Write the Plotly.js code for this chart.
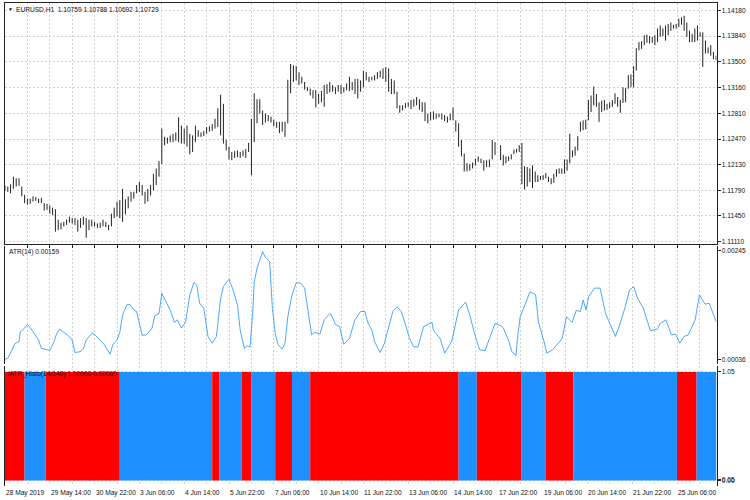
<!DOCTYPE html>
<html>
<head>
<meta charset="utf-8">
<script src="https://cdn.plot.ly/plotly-3.0.1.min.js"></script>
<style>
  html, body { margin: 0; padding: 0; background: #ffffff; }
  #chart { width: 750px; height: 500px; }
</style>
</head>
<body>
<div id="chart"></div>
<script>
// price bars (every second H1 bar or so)
const barHigh = [
  1.1185, 1.1184, 1.1187, 1.1197, 1.1195, 1.1195, 1.1184, 1.1173, 1.1168, 1.1168, 1.1171, 1.1170,
  1.1168, 1.1169, 1.1162, 1.1161, 1.1159, 1.1156, 1.1154, 1.1140, 1.1136, 1.1137, 1.1140, 1.1144,
  1.1142, 1.1142, 1.1140, 1.1142, 1.1144, 1.1142, 1.1140, 1.1140, 1.1137, 1.1135, 1.1136, 1.1140,
  1.1137, 1.1133, 1.1148, 1.1156, 1.1164, 1.1166, 1.1181, 1.1167, 1.1171, 1.1177, 1.1177, 1.1186,
  1.1190, 1.1186, 1.1177, 1.1181, 1.1186, 1.1201, 1.1208, 1.1218, 1.1261, 1.1250, 1.1249, 1.1252,
  1.1254, 1.1256, 1.1276, 1.1265, 1.1261, 1.1265, 1.1254, 1.1252, 1.1265, 1.1259, 1.1256, 1.1258,
  1.1263, 1.1264, 1.1267, 1.1274, 1.1288, 1.1306, 1.1294, 1.1246, 1.1237, 1.1230, 1.1231, 1.1232,
  1.1230, 1.1232, 1.1234, 1.1242,
  1.1274, 1.1308, 1.1300, 1.1300, 1.1285, 1.1281, 1.1279, 1.1277, 1.1273, 1.1270, 1.1270, 1.1270,
  1.1270, 1.1326, 1.1347, 1.1345, 1.1344, 1.1336, 1.1330, 1.1323, 1.1316, 1.1314, 1.1312, 1.1312,
  1.1307, 1.1311, 1.1319, 1.1320, 1.1323, 1.1319, 1.1316, 1.1319, 1.1319, 1.1316, 1.1321, 1.1330,
  1.1323, 1.1327, 1.1327, 1.1325, 1.1338, 1.1336, 1.1330, 1.1330, 1.1332, 1.1336, 1.1338, 1.1341,
  1.1343, 1.1341, 1.1327, 1.1325, 1.1310, 1.1292, 1.1292, 1.1295, 1.1296, 1.1299, 1.1300, 1.1303,
  1.1300, 1.1296, 1.1296, 1.1281, 1.1283, 1.1284, 1.1281, 1.1281, 1.1281, 1.1279, 1.1277, 1.1281,
  1.1289, 1.1272, 1.1268, 1.1246, 1.1228, 1.1215, 1.1214, 1.1216, 1.1221, 1.1224, 1.1221, 1.1219,
  1.1219, 1.1220, 1.1246, 1.1243, 1.1239, 1.1226,
  1.1224, 1.1224, 1.1227, 1.1233, 1.1234, 1.1239, 1.1242, 1.1211, 1.1210, 1.1208, 1.1212, 1.1204,
  1.1199, 1.1198, 1.1199, 1.1202, 1.1197, 1.1195, 1.1201, 1.1207, 1.1208, 1.1208, 1.1220, 1.1220,
  1.1254, 1.1232, 1.1237, 1.1251, 1.1270, 1.1272, 1.1273, 1.1299, 1.1305, 1.1317, 1.1307, 1.1296,
  1.1298, 1.1299, 1.1294, 1.1296, 1.1299, 1.1308, 1.1303, 1.1299, 1.1316, 1.1315, 1.1332, 1.1333,
  1.1344, 1.1368, 1.1376, 1.1377, 1.1385, 1.1386, 1.1384, 1.1383, 1.1385, 1.1394, 1.1398, 1.1394,
  1.1398, 1.1400, 1.1402, 1.1399, 1.1400, 1.1407, 1.1409, 1.1411, 1.1402, 1.1391, 1.1387, 1.1394,
  1.1398, 1.1389, 1.1389, 1.1378, 1.1369, 1.1372, 1.1363, 1.1358, 1.1358, 1.1365
];
const barLow = [
  1.1179, 1.1177, 1.1175, 1.1181, 1.1184, 1.1185, 1.1171, 1.1162, 1.1160, 1.1161, 1.1164, 1.1165,
  1.1162, 1.1162, 1.1152, 1.1153, 1.1148, 1.1146, 1.1124, 1.1126, 1.1127, 1.1131, 1.1133, 1.1136,
  1.1135, 1.1133, 1.1124, 1.1129, 1.1133, 1.1116, 1.1126, 1.1131, 1.1131, 1.1129, 1.1129, 1.1131,
  1.1130, 1.1126, 1.1131, 1.1142, 1.1144, 1.1142, 1.1137, 1.1147, 1.1155, 1.1164, 1.1168, 1.1175,
  1.1177, 1.1172, 1.1161, 1.1164, 1.1172, 1.1179, 1.1186, 1.1197, 1.1214, 1.1239, 1.1241, 1.1243,
  1.1243, 1.1245, 1.1243, 1.1241, 1.1241, 1.1237, 1.1227, 1.1230, 1.1243, 1.1250, 1.1250, 1.1251,
  1.1254, 1.1257, 1.1258, 1.1261, 1.1263, 1.1252, 1.1241, 1.1232, 1.1220, 1.1219, 1.1222, 1.1223,
  1.1222, 1.1224, 1.1222, 1.1230,
  1.1199, 1.1243, 1.1268, 1.1281, 1.1266, 1.1269, 1.1271, 1.1269, 1.1264, 1.1262, 1.1255, 1.1257,
  1.1250, 1.1268, 1.1308, 1.1323, 1.1325, 1.1319, 1.1321, 1.1313, 1.1311, 1.1305, 1.1301, 1.1289,
  1.1294, 1.1296, 1.1290, 1.1307, 1.1309, 1.1310, 1.1307, 1.1310, 1.1307, 1.1309, 1.1312, 1.1311,
  1.1312, 1.1307, 1.1301, 1.1310, 1.1316, 1.1325, 1.1323, 1.1325, 1.1325, 1.1327, 1.1329, 1.1327,
  1.1323, 1.1310, 1.1307, 1.1307, 1.1288, 1.1282, 1.1285, 1.1288, 1.1290, 1.1287, 1.1290, 1.1292,
  1.1286, 1.1283, 1.1271, 1.1268, 1.1272, 1.1273, 1.1274, 1.1276, 1.1273, 1.1271, 1.1269, 1.1272,
  1.1272, 1.1257, 1.1237, 1.1224, 1.1204, 1.1204, 1.1205, 1.1208, 1.1212, 1.1217, 1.1215, 1.1205,
  1.1210, 1.1210, 1.1220, 1.1226, 1.1219, 1.1212,
  1.1215, 1.1218, 1.1220, 1.1227, 1.1229, 1.1230, 1.1187, 1.1180, 1.1184, 1.1190, 1.1182, 1.1190,
  1.1190, 1.1193, 1.1193, 1.1195, 1.1190, 1.1187, 1.1189, 1.1197, 1.1201, 1.1201, 1.1201, 1.1205,
  1.1215, 1.1223, 1.1225, 1.1232, 1.1257, 1.1259, 1.1260, 1.1272, 1.1283, 1.1292, 1.1290, 1.1270,
  1.1283, 1.1285, 1.1286, 1.1288, 1.1290, 1.1294, 1.1290, 1.1282, 1.1295, 1.1296, 1.1314, 1.1316,
  1.1316, 1.1338, 1.1365, 1.1367, 1.1372, 1.1375, 1.1374, 1.1375, 1.1372, 1.1376, 1.1383, 1.1384,
  1.1378, 1.1385, 1.1391, 1.1394, 1.1394, 1.1396, 1.1399, 1.1391, 1.1383, 1.1376, 1.1376, 1.1376,
  1.1378, 1.1383, 1.1343, 1.1361, 1.1361, 1.1358, 1.1353, 1.1352, 1.1351, 1.1354
];

// ATR(14) line
const atrBar = [
  0, 2, 5, 7, 10, 11, 14, 16, 18, 21, 24, 26, 29, 32, 35, 37, 39, 42, 45, 48, 50, 54, 56, 58, 62, 64,
  67, 69, 71, 75, 77, 80, 82, 84, 87, 89, 92, 94, 96, 98, 101, 105, 107, 110, 112, 116, 118, 121, 123,
  126, 129, 132, 135, 137, 139, 142, 145, 148, 151, 154, 156, 160, 163, 166, 168, 171, 173, 175,
  177, 178, 180, 184, 186, 189, 191, 193, 195, 198, 200, 202, 205, 208, 211, 214, 217, 219, 221,
  225, 228, 232, 233, 236, 239, 242, 246, 250, 254, 257, 259, 262, 264, 268, 271, 274, 277, 280,
  283, 286, 289, 292, 295, 299, 302, 305, 306, 311, 314, 319, 324, 329, 332, 335, 339, 343, 346, 350, 354,
  356, 360, 362, 365, 366, 368, 371, 375, 379, 381, 385, 387, 391, 395, 398, 401, 405, 408, 411, 413,
  415, 417, 421, 425, 429, 432, 436, 439, 443, 446, 449, 452, 456, 461, 466, 468, 472, 476, 479, 482,
  485, 488, 493, 496, 500, 503, 506, 508
];
const atrValue = [
  0.00036, 0.00038, 0.00054, 0.00066, 0.0007, 0.00089, 0.00096, 0.00103, 0.00097, 0.00086, 0.00073, 0.00057, 0.00055, 0.00053,
  0.0007, 0.00086, 0.00094, 0.00088, 0.00082, 0.00073, 0.00049, 0.00051, 0.00057, 0.00073, 0.00086, 0.00084,
  0.00076, 0.0007, 0.00064, 0.00046, 0.00064, 0.00073, 0.00088, 0.00121, 0.00141, 0.00142, 0.00131, 0.00128, 0.00105, 0.00082,
  0.00083, 0.00096, 0.0012, 0.00124, 0.00163, 0.00141, 0.00131, 0.00107, 0.00112, 0.00096, 0.00108, 0.0016, 0.00184, 0.00179,
  0.00144, 0.00134, 0.0008, 0.00067, 0.0008, 0.00153, 0.00176, 0.0019, 0.00169, 0.00141, 0.00092, 0.00057, 0.00062, 0.0006,
  0.00128, 0.00185, 0.00211, 0.00243, 0.00232, 0.00224, 0.00134, 0.00086, 0.00064, 0.00056, 0.00067, 0.00118, 0.0016, 0.00183,
  0.00183, 0.00173, 0.00121, 0.00083, 0.00088, 0.00085, 0.00112, 0.00124, 0.00122, 0.00103, 0.00099, 0.00065, 0.00076, 0.00112,
  0.00128, 0.00128, 0.00108, 0.00092, 0.0007, 0.00049, 0.00067, 0.00099, 0.00128, 0.00137, 0.00128, 0.00103, 0.00076, 0.0006,
  0.0006, 0.00099, 0.00103, 0.00107, 0.00092, 0.00075, 0.00048, 0.0007, 0.00131, 0.00146, 0.00121, 0.00089, 0.00054, 0.00053,
  0.00076, 0.00105, 0.00101, 0.00096, 0.0007, 0.00051, 0.00043, 0.00076, 0.00118, 0.00137, 0.00166, 0.0016, 0.00108, 0.0007,
  0.00048, 0.00054, 0.00067, 0.00076, 0.00118, 0.00107, 0.0013, 0.00128, 0.0015, 0.00131, 0.00157, 0.00173, 0.00173, 0.00124,
  0.00105, 0.0008, 0.00102, 0.00137, 0.00169, 0.00176, 0.00153, 0.00134, 0.00091, 0.00094, 0.00105, 0.00112, 0.00083, 0.00084,
  0.00067, 0.0008, 0.00083, 0.00112, 0.0016, 0.00142, 0.00144, 0.00121, 0.00108
];

// iATR_Histo runs: first bar, last bar, value, colour
const histStart = [0, 14, 29, 82, 148, 153, 169, 176, 193, 205, 218, 324, 337, 369, 386, 406, 480, 494];
const histEnd = [14, 29, 82, 148, 153, 169, 176, 193, 205, 218, 324, 337, 369, 386, 406, 480, 494, 508.2];
const histColor = ["#ff0000", "#1e90ff", "#ff0000", "#1e90ff", "#ff0000", "#1e90ff", "#ff0000", "#1e90ff", "#ff0000",
  "#1e90ff", "#ff0000", "#1e90ff", "#ff0000", "#1e90ff", "#ff0000", "#1e90ff", "#ff0000", "#1e90ff"];
const histTop = 1.05;

const priceTicks = [1.1418, 1.1384, 1.135, 1.1316, 1.1281, 1.1247, 1.1213, 1.1179, 1.1145, 1.1111];
const atrTicks = [0.00245, 0.00036];
const histTicks = [1.05, 0.005, 0];
const histTickText = ["1.05", "0.05", "0.00"];
const timeTicks = [];
for (let b = 16; b <= 496; b += 16) timeTicks.push(b);
const dateBars = [0, 32, 64, 96, 128, 160, 192, 224, 256, 288, 320, 352, 384, 416, 448, 480];
const dateText = ["28 May 2019", "29 May 14:00", "30 May 22:00", "3 Jun 06:00", "4 Jun 14:00", "5 Jun 22:00",
  "7 Jun 06:00", "10 Jun 14:00", "11 Jun 22:00", "13 Jun 06:00", "14 Jun 14:00", "17 Jun 22:00",
  "19 Jun 06:00", "20 Jun 14:00", "21 Jun 22:00", "25 Jun 06:00"];

const W = 750;
const H = 500;
const BAR_MAX = 508.2;
const FONT = "Liberation Sans, Arial, sans-serif";
const TICK_FONT = { family: FONT, size: 6.6, color: "#111111" };
const GRID = "#d2d2d2";

const barX = barHigh.map((_, i) => (i < 176 ? 2 * i : 354 + 1.9 * (i - 176)));

function xAxis(showTicks) {
  return {
    domain: [5 / W, 716.5 / W],
    range: [0, BAR_MAX],
    tickmode: "array",
    tickvals: timeTicks,
    showticklabels: false,
    ticks: showTicks ? "outside" : "",
    ticklen: 3,
    tickcolor: "#222222",
    showgrid: true,
    gridcolor: GRID,
    griddash: "2px,2px",
    gridwidth: 1,
    zeroline: false,
    showline: true,
    mirror: true,
    linecolor: "#222222",
    linewidth: 1,
  };
}

function yAxis(top, bottom, range, tickvals, ticktext, showGrid) {
  return {
    domain: [1 - bottom / H, 1 - top / H],
    range,
    side: "right",
    tickmode: "array",
    tickvals,
    ticktext,
    tickfont: TICK_FONT,
    ticks: "outside",
    ticklen: 3,
    tickcolor: "#222222",
    showgrid: showGrid,
    gridcolor: GRID,
    griddash: "2px,2px",
    gridwidth: 1,
    zeroline: false,
    showline: true,
    mirror: true,
    linecolor: "#222222",
    linewidth: 1,
  };
}

function label(text, px, py, size) {
  return {
    text,
    xref: "paper",
    yref: "paper",
    x: px / W,
    y: 1 - py / H,
    xanchor: "left",
    yanchor: "middle",
    showarrow: false,
    font: { family: FONT, size, color: "#111111" },
  };
}

const priceTrace = {
  type: "ohlc",
  x: barX,
  open: barLow,
  high: barHigh,
  low: barLow,
  close: barHigh,
  tickwidth: 0,
  increasing: { line: { color: "#222222", width: 1 } },
  decreasing: { line: { color: "#222222", width: 1 } },
  xaxis: "x",
  yaxis: "y",
  hoverinfo: "skip",
};

const atrTrace = {
  type: "scatter",
  mode: "lines",
  x: atrBar,
  y: atrValue,
  line: { color: "#1e90ff", width: 0.8 },
  xaxis: "x2",
  yaxis: "y2",
  hoverinfo: "skip",
};

const histTrace = {
  type: "bar",
  x: histStart.map((s, i) => (s + histEnd[i]) / 2),
  width: histStart.map((s, i) => histEnd[i] - s),
  y: histStart.map(() => histTop),
  marker: { color: histColor, line: { width: 0 } },
  xaxis: "x3",
  yaxis: "y3",
  hoverinfo: "skip",
};

const dateLabels = dateBars.map((b, i) => ({
  text: dateText[i],
  xref: "x3",
  yref: "paper",
  x: b,
  y: 1 - 492.5 / H,
  xanchor: "left",
  yanchor: "middle",
  showarrow: false,
  xshift: -1,
  font: TICK_FONT,
}));

const layout = {
  width: W,
  height: H,
  margin: { l: 0, r: 0, t: 0, b: 0 },
  paper_bgcolor: "#ffffff",
  plot_bgcolor: "#ffffff",
  showlegend: false,
  xaxis: Object.assign(xAxis(false), { rangeslider: { visible: false } }),
  xaxis2: xAxis(false),
  xaxis3: xAxis(true),
  yaxis: yAxis(2.5, 243.5, [1.11083, 1.14286], priceTicks, priceTicks.map((v) => v.toFixed(5)), true),
  yaxis2: yAxis(245.5, 364, [0.00027, 0.00255], atrTicks, atrTicks.map((v) => v.toFixed(5)), false),
  yaxis3: yAxis(366, 485.5, [-0.0486, 1.108], histTicks, histTickText, true),
  annotations: [
    label("▼", 5.5, 9, 5),
    label("EURUSD,H1  1.10759 1.10788 1.10692 1.10729", 14, 9, 6.6),
    label("ATR(14) 0.00159", 6.5, 252, 6.6),
    label("iATR_Histo(14/140) 1.00000 0.00000", 5.5, 373.5, 6.6),
  ].concat(dateLabels),
};

Plotly.newPlot("chart", [priceTrace, atrTrace, histTrace], layout, { displayModeBar: false, staticPlot: true });
</script>
</body>
</html>
